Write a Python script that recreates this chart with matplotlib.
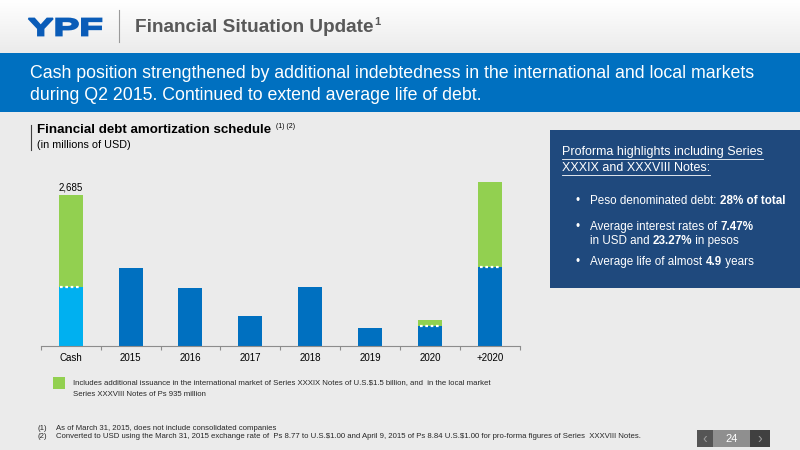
import numpy as np
import matplotlib
matplotlib.use("Agg")
import matplotlib.pyplot as plt
from matplotlib.patches import Rectangle, PathPatch
from matplotlib.textpath import TextPath
from matplotlib.font_manager import FontProperties
from matplotlib.transforms import Affine2D
from matplotlib.colors import LinearSegmentedColormap

# data (in millions of USD)
categories = ["Cash", "2015", "2016", "2017", "2018", "2019", "2020", "+2020"]
existing = [1055, 1387, 1037, 539, 1055, 314, 361, 1405]
additional = [1630, 0, 0, 0, 0, 0, 96, 1511]
cash_label = "2,685"

banner_lines = [
    "Cash position strengthened by additional indebtedness in the international and local markets",
    "during Q2 2015. Continued to extend average life of debt.",
]
legend_lines = [
    "Includes additional issuance in the international market of Series XXXIX Notes of U.S.$1.5 billion, and  in the local market",
    "Series XXXVIII Notes of Ps 935 million",
]
footnotes = [
    ("(1)", "As of March 31, 2015, does not include consolidated companies"),
    ("(2)", "Converted to USD using the March 31, 2015 exchange rate of  Ps 8.77 to U.S.$1.00 and April 9, 2015 of Ps 8.84 U.S.$1.00 for pro-forma figures of Series  XXXVIII Notes."),
]

plt.rcParams["font.family"] = ["Liberation Sans", "DejaVu Sans"]
plt.rcParams["text.parse_math"] = False

BLUE = "#0070c0"
LIGHT = "#00b0f0"
GREEN = "#92d050"
NAVY = "#1f497d"
BG = "#ebebeb"

fig = plt.figure(figsize=(8, 4.5), dpi=100)
fig.patch.set_facecolor(BG)
bg = fig.add_axes([0, 0, 1, 1])
bg.set_xlim(0, 800)
bg.set_ylim(450, 0)
bg.axis("off")
renderer = fig.canvas.get_renderer()


def fit(x, y, s, width, size=10, **kw):
    t = bg.text(x, y, s, fontsize=size, va="center", **kw)
    w = t.get_window_extent(renderer=renderer).width
    t.set_fontsize(size * width / w)
    return t


def run(x, y, parts, size, **kw):
    # consecutive pieces of text with different weights on one line
    for s, w in parts:
        t = bg.text(x, y, s, fontsize=size, fontweight=w, va="center", **kw)
        x += t.get_window_extent(renderer=renderer).width
    return x


# header strip with soft gradient
grad = np.linspace(1.0, 0.0, 60).reshape(-1, 1)
bg.imshow(grad, extent=[0, 800, 53, 0], cmap=LinearSegmentedColormap.from_list("g", [BG, "#ffffff"]),
          aspect="auto", zorder=0)

# logo drawn as a stretched text path
tp = TextPath((0, 0), "YPF", size=10, prop=FontProperties(family="Liberation Sans", weight="bold"))
ext = tp.get_extents()
sx = 73 / ext.width
sy = 17 / ext.height
tr = Affine2D().translate(-ext.x0, -ext.y0).scale(sx, -sy).translate(28.5, 35.5)
bg.add_patch(PathPatch(tr.transform_path(tp), facecolor="#0a5cb8", edgecolor="#0a5cb8", lw=1.3, zorder=2))

bg.plot([119, 119], [10, 42], color="#9a9a9a", lw=0.8)
tt = fit(135, 28, "Financial Situation Update", 238, color="#595959", fontweight="bold")
bb = tt.get_window_extent(renderer=renderer)
bg.text(135 + bb.width + 1, 22, "1", fontsize=8, color="#595959", fontweight="bold", va="center")

# blue banner
bg.add_patch(Rectangle((0, 53), 800, 59, color=BLUE, lw=0))
b1 = fit(30, 73, banner_lines[0], 725, color="white")
bg.text(30, 96, banner_lines[1], color="white", va="center", fontsize=b1.get_fontsize())

# chart heading
bg.plot([31, 31], [125, 150], color="#404040", lw=0.8)
fit(37, 130, "Financial debt amortization schedule", 235, color="black", fontweight="bold")
bg.text(276, 126, "(1) (2)", fontsize=5, color="black", va="center")
fit(37, 145, "(in millions of USD)", 94, color="black")

# bar chart
ax = fig.add_axes([40.7 / 800, 1 - 346 / 450, 479.3 / 800, 176 / 450])
ax.set_facecolor("none")
x = np.arange(len(categories))
base_colors = [LIGHT] + [BLUE] * (len(categories) - 1)
ax.bar(x, existing, width=0.4, color=base_colors, zorder=2)
ax.bar(x, additional, width=0.4, bottom=existing, color=GREEN, zorder=2)
for xi, e, a in zip(x, existing, additional):
    if a > 0:
        ax.hlines(e, xi - 0.17, xi + 0.17, colors="white", linestyles=(0, (1.2, 1.2)), lw=1.6, zorder=3)
ax.text(0, existing[0] + additional[0] + 50, cash_label, ha="center", va="bottom", fontsize=7)
ax.set_xlim(-0.5, 7.5)
ax.set_ylim(0, 3130)
for side in ["top", "right", "left"]:
    ax.spines[side].set_visible(False)
ax.spines["bottom"].set_color("#8c8c8c")
ax.spines["bottom"].set_linewidth(0.8)
ax.set_yticks([])
ax.set_xticks(x)
ax.set_xticklabels(categories, fontsize=7)
ax.tick_params(axis="x", length=0, pad=5)
ax.set_xticks(np.arange(-0.5, 8, 1), minor=True)
ax.tick_params(axis="x", which="minor", length=3, color="#8c8c8c", width=0.8)

# highlights box
bg.add_patch(Rectangle((550, 130), 250, 158, color=NAVY, lw=0))
for yy, s in [(152, "Proforma highlights including Series"), (168, "XXXIX and XXXVIII Notes:")]:
    t = bg.text(562, yy, s, fontsize=9, color="white", va="center")
    bb = t.get_window_extent(renderer=renderer)
    bg.plot([562, 562 + bb.width], [yy + 7, yy + 7], color="white", lw=0.6)
bsize = 8.4
for yy in [201, 227, 262]:
    bg.text(576, yy, "\u2022", fontsize=bsize, color="white", va="center")
run(590, 201, [("Peso denominated debt: ", "normal"), ("28% of total", "bold")], bsize, color="white")
run(590, 227, [("Average interest rates of ", "normal"), ("7.47%", "bold")], bsize, color="white")
run(590, 241, [("in USD and ", "normal"), ("23.27%", "bold"), (" in pesos", "normal")], bsize, color="white")
run(590, 262, [("Average life of almost ", "normal"), ("4.9", "bold"), (" years", "normal")], bsize, color="white")

# legend note
bg.add_patch(Rectangle((53, 377), 12, 12, color=GREEN, lw=0))
l1 = fit(73, 383, legend_lines[0], 418, color="#262626")
bg.text(73, 394, legend_lines[1], color="#262626", va="center", fontsize=l1.get_fontsize())

# footnotes
f2 = fit(56, 437, footnotes[1][1], 584, color="#262626")
bg.text(56, 429, footnotes[0][1], color="#262626", va="center", fontsize=f2.get_fontsize())
for yy, (num, _) in zip([429, 437], footnotes):
    bg.text(37, yy, num, fontsize=f2.get_fontsize(), color="#262626", va="center")

# page navigation
bg.add_patch(Rectangle((697, 430), 16, 17, color="#555555", lw=0))
bg.add_patch(Rectangle((713, 430), 37, 17, color="#8f8f8f", lw=0))
bg.add_patch(Rectangle((750, 430), 20, 17, color="#404040", lw=0))
bg.text(705, 438.5, "\u2039", fontsize=10, color="#9a9a9a", ha="center", va="center")
bg.text(731.5, 438.5, "24", fontsize=8, color="white", ha="center", va="center")
bg.text(760, 438.5, "\u203a", fontsize=10, color="#9a9a9a", ha="center", va="center")

fig.savefig("out.png", dpi=100, facecolor=BG)
